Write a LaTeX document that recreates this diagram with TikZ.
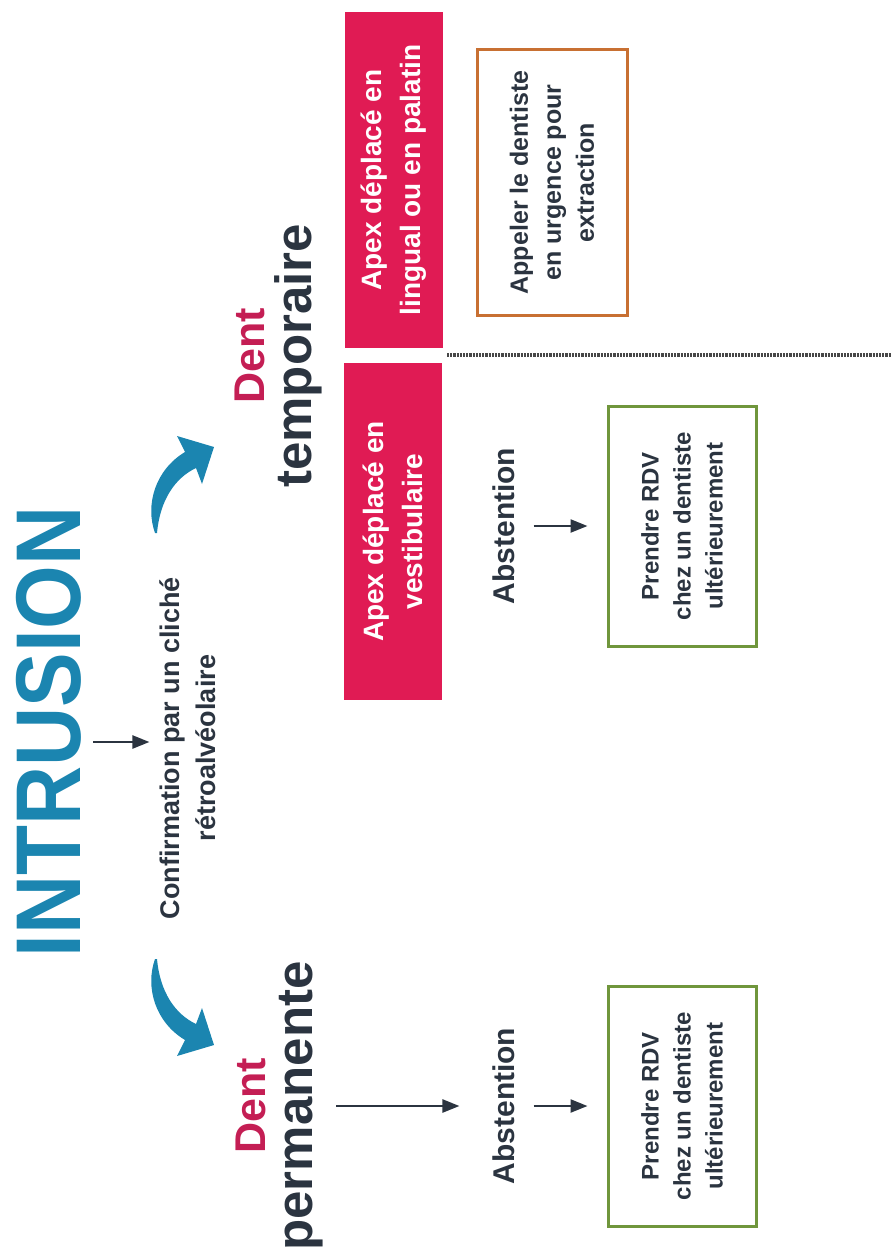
\documentclass[tikz,border=0pt]{standalone}
\usepackage{fontspec}
\setmainfont{Liberation Sans}
\usepackage{graphicx}
\usetikzlibrary{arrows.meta,positioning}

\definecolor{intrublue}{RGB}{27,133,176}
\definecolor{apexred}{RGB}{224,27,84}
\definecolor{dentred}{RGB}{196,30,84}
\definecolor{inkdark}{RGB}{43,52,64}
\definecolor{rdvgreen}{RGB}{112,150,60}
\definecolor{urgorange}{RGB}{200,112,50}

\newcommand{\fsz}[2]{\fontsize{#1}{#2}\selectfont}

\begin{document}
\begin{tikzpicture}[x=1pt,y=-1pt,
  every node/.style={rotate=90,font=\bfseries,text=inkdark},
  apexbox/.style={fill=apexred,text=white,align=center,minimum width=336pt,
                  minimum height=98pt,font=\bfseries\fsz{28}{39}},
  rdvbox/.style={draw=rdvgreen,line width=3pt,align=center,minimum width=240pt,
                 minimum height=148pt,font=\bfseries\fsz{24}{32}},
  urgbox/.style={draw=urgorange,line width=3pt,align=center,minimum width=265pt,
                 minimum height=150pt,font=\bfseries\fsz{25}{33}},
  absten/.style={font=\bfseries\fsz{30}{36}},
  dentlabel/.style={align=center,font=\bfseries\fsz{51}{47}},
  arr/.style={-{Triangle[length=17pt,width=13pt]},line width=2.4pt,draw=inkdark},
  curvearr/.style={fill=intrublue,draw=none},
  sepline/.style={line width=4.5pt,draw=black!72,dash pattern=on 2.2pt off 1pt},
]
\useasboundingbox (0,0) rectangle (891,1252);

% Title and confirmation
\node[text=intrublue,font=\bfseries\fsz{92}{92}] (intrusion) at (49,732)
  {\scalebox{0.89}[1]{INTRUSION}};
\node[align=center,font=\bfseries\fsz{27}{36}] (confirm) at (188,748)
  {Confirmation par un cliché\\rétroalvéolaire};

% Two kinds of teeth
\node[dentlabel] (temp) at (278,356) {{\color{dentred}\fsz{43}{47}Dent}\\temporaire};
\node[dentlabel] (perm) at (279,1106) {{\color{dentred}\fsz{43}{47}Dent}\\permanente};

% Curved arrows
\fill[curvearr] (155,533) .. controls (145,505) and (155,470) .. (185,452)
  -- (177,436) -- (214,447) -- (202,484) -- (196,468)
  .. controls (175,478) and (160,500) .. (157,533) -- cycle;
\fill[curvearr] (155,959) .. controls (145,987) and (155,1022) .. (185,1040)
  -- (177,1056) -- (214,1045) -- (202,1008) -- (196,1024)
  .. controls (175,1014) and (160,992) .. (157,959) -- cycle;

% Temporary tooth: apex position
\node[apexbox] (apexlin) at (393.5,180) {Apex déplacé en\\lingual ou en palatin};
\node[apexbox,minimum width=337pt] (apexvest) at (393,531.5) {Apex déplacé en\\vestibulaire};
\draw[sepline] (447,355) -- (891,355);

\node[urgbox] (urgent) at (552,182.5) {Appeler le dentiste\\en urgence pour\\extraction};
\node[absten] (abstT) at (504,526) {Abstention};
\node[rdvbox] (rdvT) at (682,526) {Prendre RDV\\chez un dentiste\\ultérieurement};

% Permanent tooth
\node[absten] (abstP) at (504,1106) {Abstention};
\node[rdvbox] (rdvP) at (682,1106) {Prendre RDV\\chez un dentiste\\ultérieurement};

% Arrows
\draw[arr,shorten <=8pt,shorten >=7pt] ([yshift=-10pt]intrusion.south) -- ([yshift=6pt]confirm.north);
\draw[arr,shorten <=10pt,shorten >=30pt] (perm.south) -- (abstP.north);
\draw[arr,shorten <=15pt,shorten >=19pt] (abstP.south) -- (rdvP.north);
\draw[arr,shorten <=15pt,shorten >=19pt] (abstT.south) -- (rdvT.north);

\end{tikzpicture}
\end{document}
